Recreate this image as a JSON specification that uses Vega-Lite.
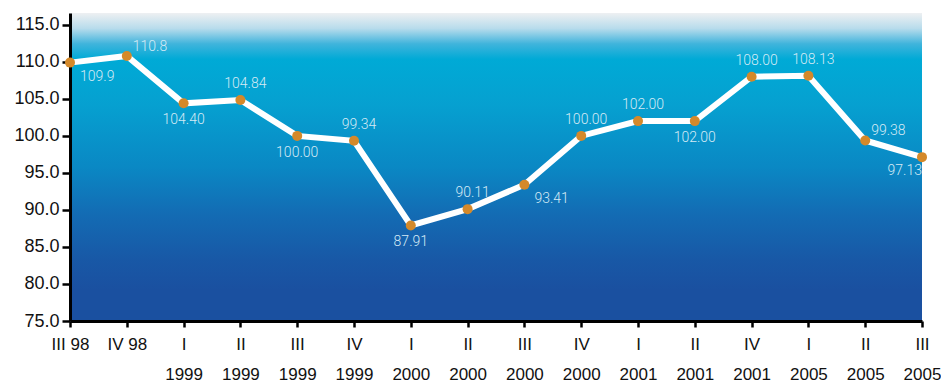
{
  "$schema": "https://vega.github.io/schema/vega-lite/v6.json",
  "width": 852,
  "height": 308,
  "autosize": {"type": "none"},
  "padding": {"left": 70, "top": 13, "right": 19, "bottom": 62},
  "background": "white",
  "view": {
    "stroke": null,
    "fill": {
      "gradient": "linear",
      "x1": 0, "y1": 0, "x2": 0, "y2": 1,
      "stops": [
        {"offset": 0, "color": "#eef0f2"},
        {"offset": 0.05, "color": "#b8dcec"},
        {"offset": 0.1, "color": "#40b4dc"},
        {"offset": 0.15, "color": "#00aad6"},
        {"offset": 0.3, "color": "#06a0d0"},
        {"offset": 0.5, "color": "#0a88c4"},
        {"offset": 0.65, "color": "#136cb4"},
        {"offset": 0.8, "color": "#1858a6"},
        {"offset": 0.9, "color": "#1a50a0"},
        {"offset": 1, "color": "#1a50a0"}
      ]
    }
  },
  "data": {
    "values": [
      {"period": "III 98", "value": 109.9, "label": "109.9", "pos": "belowRight"},
      {"period": "IV 98", "value": 110.8, "label": "110.8", "pos": "aboveRight"},
      {"period": "I|1999", "value": 104.40, "label": "104.40", "pos": "below"},
      {"period": "II|1999", "value": 104.84, "label": "104.84", "pos": "above"},
      {"period": "III|1999", "value": 100.00, "label": "100.00", "pos": "below"},
      {"period": "IV|1999", "value": 99.34, "label": "99.34", "pos": "above"},
      {"period": "I|2000", "value": 87.91, "label": "87.91", "pos": "below"},
      {"period": "II|2000", "value": 90.11, "label": "90.11", "pos": "above"},
      {"period": "III|2000", "value": 93.41, "label": "93.41", "pos": "belowRight"},
      {"period": "IV|2000", "value": 100.00, "label": "100.00", "pos": "above"},
      {"period": "I|2001", "value": 102.00, "label": "102.00", "pos": "above"},
      {"period": "II|2001", "value": 102.00, "label": "102.00", "pos": "below"},
      {"period": "IV|2001", "value": 108.00, "label": "108.00", "pos": "above"},
      {"period": "I|2005", "value": 108.13, "label": "108.13", "pos": "above"},
      {"period": "II|2005", "value": 99.38, "label": "99.38", "pos": "aboveRight"},
      {"period": "III|2005", "value": 97.13, "label": "97.13", "pos": "belowLeft"}
    ]
  },
  "encoding": {
    "x": {
      "field": "period",
      "type": "ordinal",
      "sort": null,
      "scale": {"type": "point", "padding": 0},
      "axis": {
        "title": null,
        "labelAngle": 0,
        "labelExpr": "split(datum.label, '|')",
        "labelBaseline": "top",
        "labelLineHeight": 30,
        "labelPadding": 9,
        "labelFontSize": 17,
        "labelColor": "#111111",
        "labelOverlap": false,
        "labelBound": false,
        "labelFlush": false,
        "tickSize": 6,
        "tickWidth": 2.5,
        "tickColor": "#000000",
        "domainColor": "#000000",
        "domainWidth": 3,
        "grid": false
      }
    },
    "y": {
      "field": "value",
      "type": "quantitative",
      "scale": {"domain": [75, 116.6], "nice": false, "zero": false},
      "axis": {
        "title": null,
        "values": [75, 80, 85, 90, 95, 100, 105, 110, 115],
        "format": ".1f",
        "labelFontSize": 18,
        "labelColor": "#111111",
        "labelPadding": 3,
        "tickSize": 8,
        "tickWidth": 2.5,
        "tickColor": "#000000",
        "domainColor": "#000000",
        "domainWidth": 3,
        "grid": false
      }
    }
  },
  "layer": [
    {"mark": {"type": "line", "color": "#ffffff", "strokeWidth": 6}},
    {"mark": {"type": "circle", "size": 100, "opacity": 1, "color": "#d4892a"}},
    {
      "transform": [{"filter": "datum.pos == 'above'"}],
      "mark": {"type": "text", "align": "center", "baseline": "middle", "dx": 5, "dy": -16, "font": "Roboto", "fontSize": 14, "fontWeight": 300, "color": "#d4eaf5"},
      "encoding": {"text": {"field": "label"}}
    },
    {
      "transform": [{"filter": "datum.pos == 'below'"}],
      "mark": {"type": "text", "align": "center", "baseline": "middle", "dx": 0, "dy": 17, "font": "Roboto", "fontSize": 14, "fontWeight": 300, "color": "#d4eaf5"},
      "encoding": {"text": {"field": "label"}}
    },
    {
      "transform": [{"filter": "datum.pos == 'aboveRight'"}],
      "mark": {"type": "text", "align": "left", "baseline": "middle", "dx": 6, "dy": -9, "font": "Roboto", "fontSize": 14, "fontWeight": 300, "color": "#d4eaf5"},
      "encoding": {"text": {"field": "label"}}
    },
    {
      "transform": [{"filter": "datum.pos == 'belowRight'"}],
      "mark": {"type": "text", "align": "left", "baseline": "middle", "dx": 10, "dy": 14, "font": "Roboto", "fontSize": 14, "fontWeight": 300, "color": "#d4eaf5"},
      "encoding": {"text": {"field": "label"}}
    },
    {
      "transform": [{"filter": "datum.pos == 'belowLeft'"}],
      "mark": {"type": "text", "align": "right", "baseline": "middle", "dx": 0, "dy": 14, "font": "Roboto", "fontSize": 14, "fontWeight": 300, "color": "#d4eaf5"},
      "encoding": {"text": {"field": "label"}}
    }
  ],
  "config": {
    "font": "Liberation Sans"
  }
}
